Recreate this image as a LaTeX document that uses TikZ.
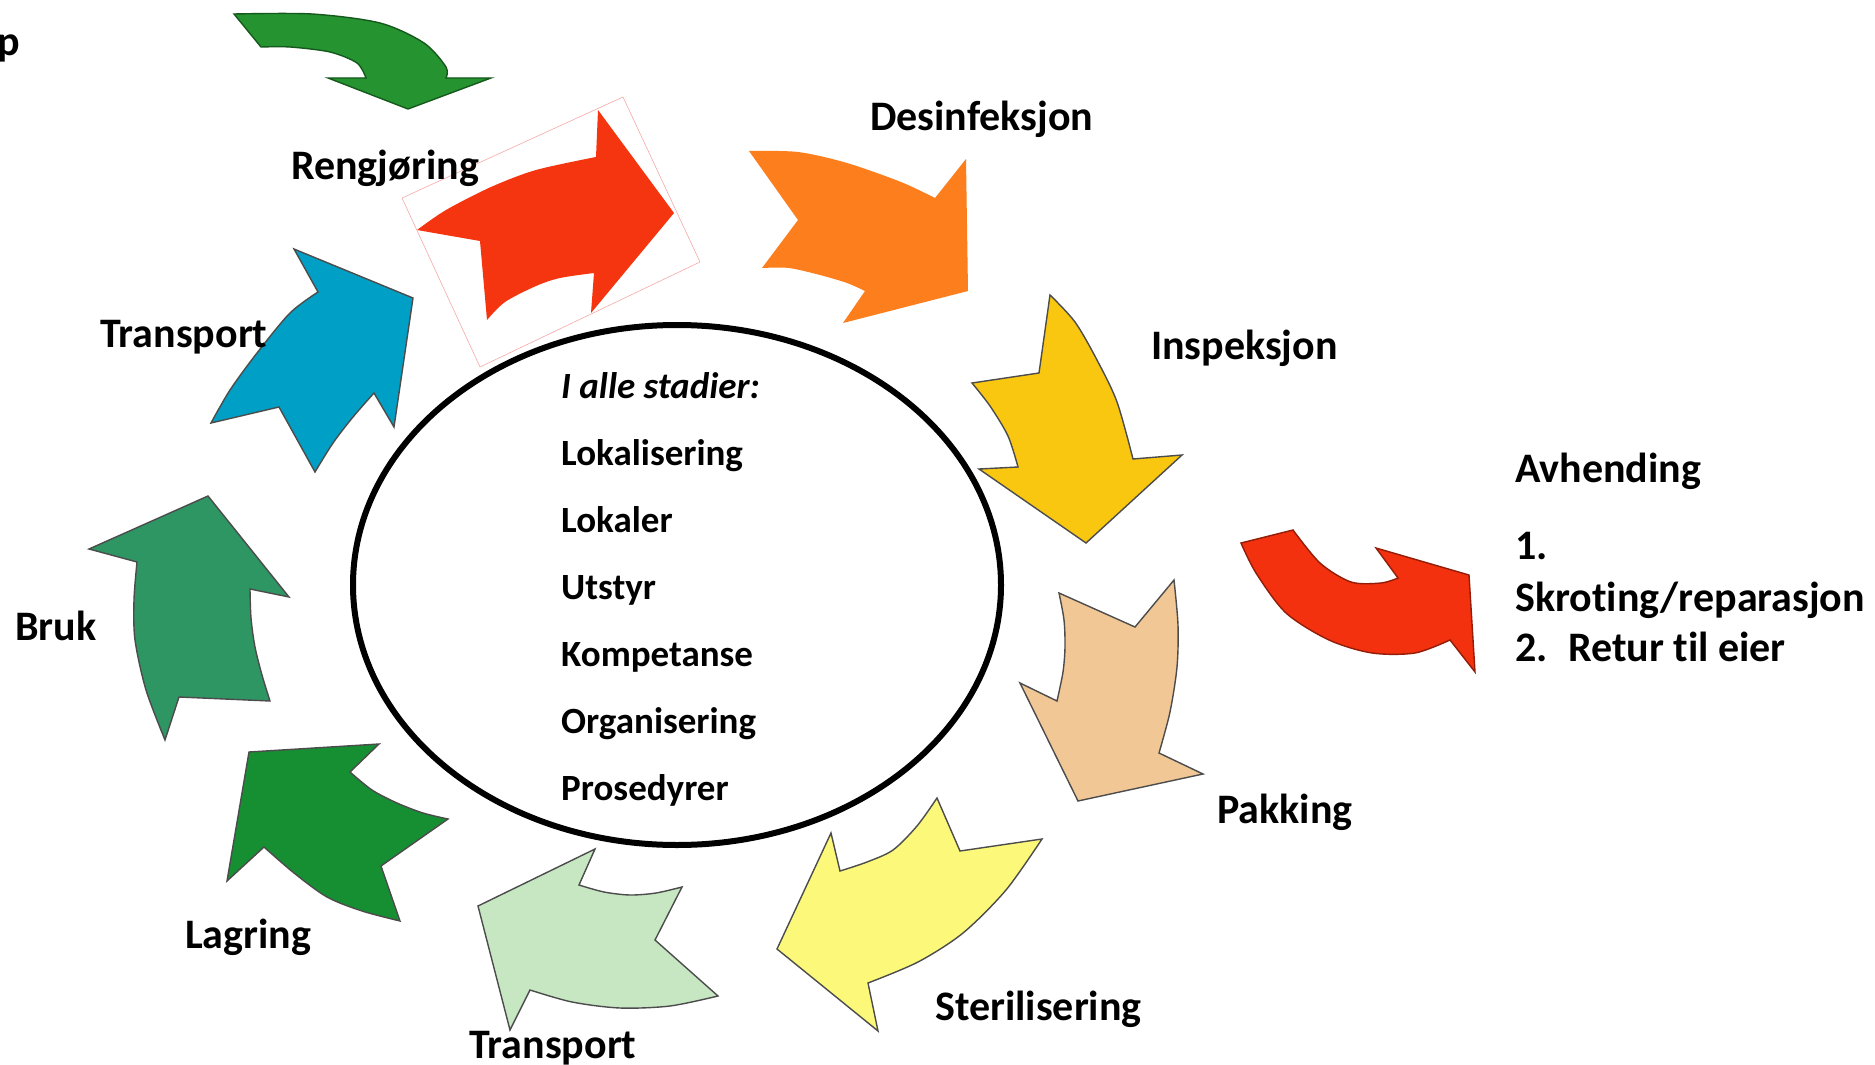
\documentclass[tikz,border=0pt]{standalone}
\usepackage{fontspec}
\setmainfont{Carlito}[RawFeature={-liga;-clig;-calt;-dlig}]
\definecolor{cGtop}{HTML}{259430}
\definecolor{cRed}{HTML}{F5350F}
\definecolor{cOra}{HTML}{FC7E1C}
\definecolor{cYel}{HTML}{F9C710}
\definecolor{cPea}{HTML}{F2C796}
\definecolor{cLye}{HTML}{FCF97A}
\definecolor{cLgr}{HTML}{C6E7C2}
\definecolor{cDgr}{HTML}{158F32}
\definecolor{cSgr}{HTML}{2E9663}
\definecolor{cBlu}{HTML}{00A0C6}
\definecolor{cRav}{HTML}{F3310E}
\definecolor{cPink}{HTML}{F7A8A8}
\tikzset{
  lab/.style={anchor=base west, font=\bfseries\fontsize{42}{50}\selectfont, inner sep=0pt},
  inlab/.style={anchor=base west, font=\bfseries\fontsize{37}{44}\selectfont, inner sep=0pt},
  arr/.style={draw=black!70, line width=1.4pt, line join=miter},
}
\begin{document}
\begin{tikzpicture}[x=1pt,y=-1pt]
\useasboundingbox (0,0) rectangle (1875,1065);
\fill[white] (0,0) rectangle (1875,1065);

% top green arrow
\filldraw[arr, draw=cGtop!60!black, fill=cGtop] plot[smooth] coordinates {(234,14) (312,14) (380,23) (424,43) (446,67) (446,78)} -- (491,78) -- (408,109) -- (328,78) -- plot[smooth] coordinates {(366,78) (357,63) (330,52) (290,47) (261,47)} -- cycle;

% Rengjoring red arrow
\draw[cPink, line width=0.6pt] (402,198) -- (623,97) -- (700,262) -- (480,367) -- cycle;
\fill[cRed] plot[smooth] coordinates {(417,230) (446,210) (491,187) (536,170) (596,157)} -- (598,110) -- (674,213) -- (591,313) -- plot[smooth] coordinates {(594,273) (560,278) (536,286) (505,302) (487,320)} -- (480,241) -- cycle;

% Desinfeksjon orange arrow
\fill[cOra] (749,151) -- (798,220) -- plot[smooth] coordinates {(762,268) (789,268) (820,275) (847,283) (865,291)} -- (843,323) -- (968,291) -- (966,159) -- plot[smooth] coordinates {(935,198) (901,182) (847,163) (798,152) (749,151)} -- cycle;

% Inspeksjon yellow arrow
\filldraw[arr, fill=cYel] (1050,295) -- (1039,373) -- plot[smooth] coordinates {(972,383) (990,406) (1008,436) (1018,467)} -- (979,469) -- (1086,543) -- (1182,455) -- plot[smooth] coordinates {(1133,459) (1117,402) (1097,360) (1075,322) (1050,295)} -- cycle;

% Pakking peach arrow
\filldraw[arr, fill=cPea] (1059,593) -- (1135,627) -- plot[smooth] coordinates {(1174,580) (1178,625) (1177,667) (1170,712) (1159,753)} -- (1203,774) -- (1078,801) -- (1020,683) -- plot[smooth] coordinates {(1057,701) (1063,672) (1065,647) (1064,620) (1059,593)} -- cycle;

% Sterilisering light yellow arrow
\filldraw[arr, fill=cLye] (831,833) -- plot[smooth] coordinates {(840,871) (867,862) (893,850) (917,826) (937,798)} -- (960,851) -- plot[smooth] coordinates {(1042,839) (1006,890) (963,933) (918,962) (868,983)} -- (878,1031) -- (777,949) -- cycle;

% Transport light green arrow
\filldraw[arr, fill=cLgr] (595,849) -- plot[smooth] coordinates {(579,885) (604,892) (630,895) (656,893) (682,887)} -- (655,940) -- plot[smooth] coordinates {(718,996) (670,1006) (620,1008) (572,1002) (530,990)} -- (510,1030) -- (478,906) -- cycle;

% Lagring dark green arrow
\filldraw[arr, fill=cDgr] (249,752) -- (379,744) -- plot[smooth] coordinates {(350,772) (372,790) (397,803) (423,813) (448,819)} -- (381,866) -- plot[smooth] coordinates {(400,921) (362,911) (327,897) (294,873) (264,847)} -- (227,881) -- cycle;

% Bruk sea green arrow
\filldraw[arr, fill=cSgr] (89,549) -- (208,496) -- (289,597) -- plot[smooth] coordinates {(250,589) (251,618) (255,647) (262,675) (270,701)} -- (179,697) -- plot[smooth] coordinates {(165,740) (146,690) (135,640) (134,600) (137,562)} -- cycle;

% Transport blue arrow
\filldraw[arr, fill=cBlu] (294,249) -- plot[smooth] coordinates {(318,292) (290,313) (257,353) (230,390) (211,423)} -- (279,407) -- plot[smooth] coordinates {(315,472) (333,443) (353,417) (374,393)} -- (394,427) -- (413,298) -- cycle;

% Avhending red arrow
\filldraw[arr, draw=cRav!60!black, fill=cRav] (1241,543) -- plot[smooth] coordinates {(1293,530) (1320,563) (1351,582) (1381,583) (1398,578)} -- (1376,548) -- (1469,575) -- (1475,672) -- plot[smooth] coordinates {(1450,640) (1415,653) (1372,653) (1329,640) (1286,613) (1256,573) (1241,543)} -- cycle;

% center ellipse
\draw[line width=6pt] (677,585) ellipse [x radius=324, y radius=260];

% inner texts
\node[inlab] (hdr) at (561,398) {\itshape I alle stadier:};
\node[inlab] (i1) at (561,465) {Lokalisering};
\node[inlab] (i2) at (561,532) {Lokaler};
\node[inlab] (i3) at (561,599) {Utstyr};
\node[inlab] (i4) at (561,666) {Kompetanse};
\node[inlab] (i5) at (561,733) {Organisering};
\node[inlab] (i6) at (561,800) {Prosedyrer};

% outer labels
\node[lab] (p) at (-3,56) {p};
\node[lab] (reng) at (291,179) {Rengjøring};
\node[lab] (desi) at (870,130) {Desinfeksjon};
\node[lab] (insp) at (1151,359) {Inspeksjon};
\node[lab] (tr1) at (100,347) {Transport};
\node[lab] (bruk) at (15,640) {Bruk};
\node[lab] (lag) at (185,948) {Lagring};
\node[lab] (tr2) at (469,1058) {Transport};
\node[lab] (ster) at (935,1020) {Sterilisering};
\node[lab] (pak) at (1217,823) {Pakking};
\node[lab] (avh) at (1515,482) {Avhending};
\node[lab] (n1) at (1515,559) {1.};
\node[lab] (skr) at (1515,611) {Skrot\kern0pt ing/reparasjon};
\node[lab] (n2) at (1515,661) {2.};
\node[lab] (ret) at (1568,661) {Retur t\kern0pt il eier};
\end{tikzpicture}
\end{document}
